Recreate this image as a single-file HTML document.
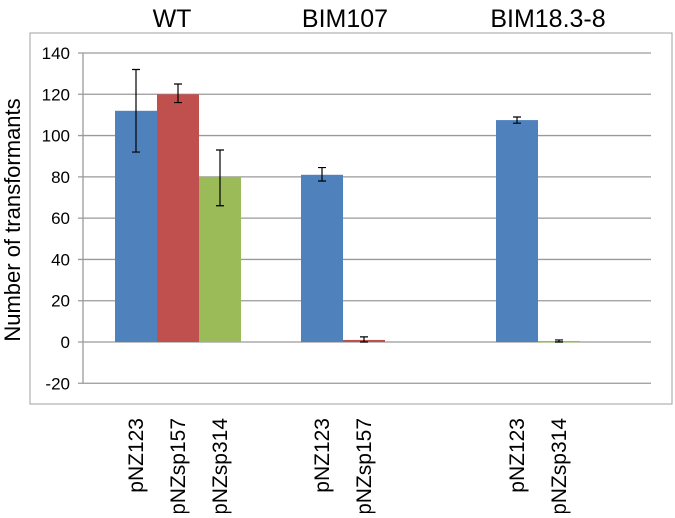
<!DOCTYPE html>
<html><head><meta charset="utf-8"><style>
body{margin:0;background:#fff;width:675px;height:513px;overflow:hidden;font-family:"Liberation Sans",sans-serif}
</style></head><body>
<svg id="c" width="675" height="513" font-family="Liberation Sans, sans-serif"></svg>
<script>
const groups=["WT","BIM107","BIM18.3-8"];
const groupCenters=[172,345,548];
const categories=["pNZ123","pNZsp157","pNZsp314","pNZ123","pNZsp157","pNZ123","pNZsp314"];
const values=[112,120,80,81,1,107.5,0.5];
const errLow=[92,116,66,78,0,106,0];
const errHigh=[132,125,93,84.5,2.5,109,1];
const barColors=["#4f81bd","#c0504d","#9bbb59","#4f81bd","#c0504d","#4f81bd","#9bbb59"];
const barLeft=[115,157,199,301,343,496,538];
const yTicks=[-20,0,20,40,60,80,100,120,140];
const NS="http://www.w3.org/2000/svg";
const svg=document.getElementById('c');
function y(v){return 342-(v)*289/140;}
function mk(t,a,p){const e=document.createElementNS(NS,t);for(const k in a)e.setAttribute(k,a[k]);(p||svg).appendChild(e);return e;}
const frame=mk('rect',{x:30,y:33,width:642,height:371,fill:'#fff',stroke:'#a0a0a0','stroke-width':1});


yTicks.forEach(t=>{
 const l=mk('line',{x1:78,x2:651,y1:y(t),y2:y(t),stroke:'#9a9a9a','stroke-width':1.3});
 
 
 const tx=mk('text',{x:70,y:y(t)+6,'text-anchor':'end','font-size':17,fill:'#000'});
 tx.textContent=t;
 
 
});
const ax=mk('line',{x1:83,x2:83,y1:y(140),y2:y(-20),stroke:'#9a9a9a','stroke-width':1.3});


const yt=mk('text',{x:0,y:0,transform:'translate(20,220) rotate(-90)','text-anchor':'middle','font-size':22,fill:'#000'});
yt.textContent='Number of transformants';


values.forEach((v,i)=>{
 const x0=barLeft[i],w=42,top=y(Math.max(v,0)),bot=y(Math.min(v,0));
 const b=mk('rect',{x:x0,y:top,width:w,height:Math.max(bot-top,1.5),fill:barColors[i]});
 
 
 const cx=x0+w/2;
 const e=mk('path',{d:`M${cx},${y(errHigh[i])}V${y(errLow[i])}M${cx-4},${y(errHigh[i])}H${cx+4}M${cx-4},${y(errLow[i])}H${cx+4}`,stroke:'#000','stroke-width':1.2,fill:'none'});
 
 
 const lb=mk('text',{x:0,y:0,transform:`translate(${cx+7},418) rotate(-90)`,'text-anchor':'end','font-size':21,fill:'#000'});
 lb.textContent=categories[i];
 
 
});
groups.forEach((g,i)=>{
 const t=mk('text',{x:groupCenters[i],y:27,'text-anchor':'middle','font-size':25,fill:'#000'});
 t.textContent=g;
 
 
});
</script>
</body></html>
